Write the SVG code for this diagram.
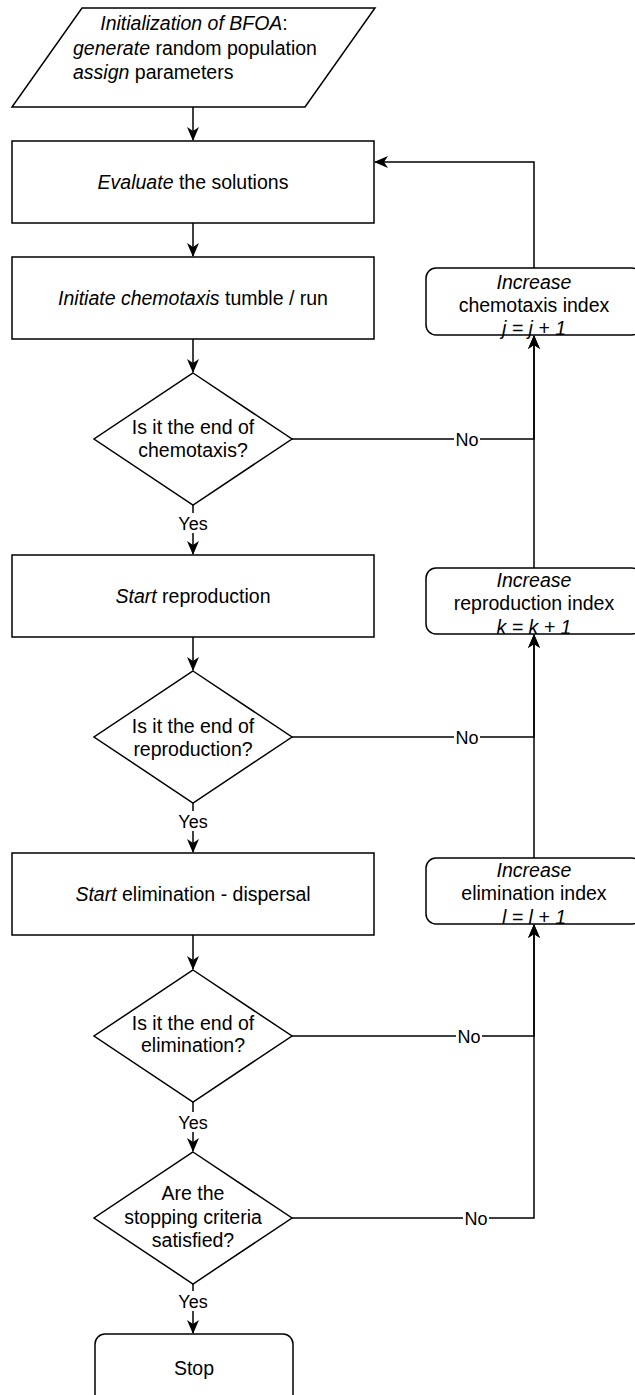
<svg xmlns="http://www.w3.org/2000/svg" width="635" height="1395" viewBox="0 0 635 1395">
  <style>
    .shape { fill: #ffffff; stroke: #000000; stroke-width: 1.5; }
    .edge { fill: none; stroke: #000000; stroke-width: 1.5; }
    text { font-family: "Liberation Sans", Arial, sans-serif; fill: #000000; }
    .t { font-size: 19.5px; text-anchor: middle; }
    .tl { font-size: 19.5px; }
    .lbl { font-size: 18px; text-anchor: middle; }
    .lblbg { fill: #ffffff; stroke: none; }
    .i { font-style: italic; }
  </style>
  <defs>
    <marker id="arrow" viewBox="0 0 14 12" refX="13" refY="6" markerWidth="14" markerHeight="12" markerUnits="userSpaceOnUse" orient="auto">
      <path d="M0,0 L14,6 L0,12 L4,6 Z" fill="#000000"/>
    </marker>
  </defs>

  <!-- connectors -->
  <g id="connectors">
    <path class="edge" d="M193,107 V140" marker-end="url(#arrow)"/>
    <path class="edge" d="M193,223 V256" marker-end="url(#arrow)"/>
    <path class="edge" d="M193,339 V372" marker-end="url(#arrow)"/>
    <path class="edge" d="M193,505 V554" marker-end="url(#arrow)"/>
    <path class="edge" d="M193,637 V670" marker-end="url(#arrow)"/>
    <path class="edge" d="M193,803 V852" marker-end="url(#arrow)"/>
    <path class="edge" d="M193,935 V969" marker-end="url(#arrow)"/>
    <path class="edge" d="M193,1102 V1151" marker-end="url(#arrow)"/>
    <path class="edge" d="M193,1284 V1333" marker-end="url(#arrow)"/>

    <!-- loop back: chemotaxis -->
    <path class="edge" d="M292,439 H534 V336" marker-end="url(#arrow)"/>
    <path class="edge" d="M534,268 V162 H375" marker-end="url(#arrow)"/>
    <!-- loop back: reproduction -->
    <path class="edge" d="M292,737 H534 V635" marker-end="url(#arrow)"/>
    <path class="edge" d="M534,568 V336" marker-end="url(#arrow)"/>
    <!-- loop back: elimination -->
    <path class="edge" d="M292,1036 H534 V925" marker-end="url(#arrow)"/>
    <path class="edge" d="M534,858 V635" marker-end="url(#arrow)"/>
    <path class="edge" d="M292,1218 H534 V925" marker-end="url(#arrow)"/>

    <!-- edge labels -->
    <rect class="lblbg" x="177" y="513" width="32" height="20"/>
    <text class="lbl" x="193" y="529.5">Yes</text>
    <rect class="lblbg" x="177" y="811" width="32" height="20"/>
    <text class="lbl" x="193" y="827.5">Yes</text>
    <rect class="lblbg" x="177" y="1112" width="32" height="20"/>
    <text class="lbl" x="193" y="1128.5">Yes</text>
    <rect class="lblbg" x="177" y="1291" width="32" height="20"/>
    <text class="lbl" x="193" y="1307.5">Yes</text>

    <rect class="lblbg" x="454" y="429" width="26" height="20"/>
    <text class="lbl" x="467" y="445.5">No</text>
    <rect class="lblbg" x="454" y="727" width="26" height="20"/>
    <text class="lbl" x="467" y="743.5">No</text>
    <rect class="lblbg" x="456" y="1026" width="26" height="20"/>
    <text class="lbl" x="469" y="1042.5">No</text>
    <rect class="lblbg" x="463" y="1208" width="26" height="20"/>
    <text class="lbl" x="476" y="1224.5">No</text>
  </g>

  <!-- initialization (input/output) -->
  <g id="init">
    <polygon class="shape" points="82,8 375,8 305,107 12,107"/>
    <text class="t" x="194" y="30"><tspan class="i">Initialization of BFOA</tspan>:</text>
    <text class="tl" x="73" y="54.5"><tspan class="i">generate</tspan> random population</text>
    <text class="tl" x="73" y="78.5"><tspan class="i">assign</tspan> parameters</text>
  </g>

  <g id="evaluate">
    <rect class="shape" x="12" y="141" width="362" height="82"/>
    <text class="t" x="193" y="189"><tspan class="i">Evaluate</tspan> the solutions</text>
  </g>

  <g id="chemotaxis">
    <rect class="shape" x="12" y="257" width="362" height="82"/>
    <text class="t" x="193" y="305"><tspan class="i">Initiate chemotaxis</tspan> tumble / run</text>
  </g>

  <g id="end-chemotaxis">
    <polygon class="shape" points="193,373 292,439 193,505 94,439"/>
    <text class="t" x="193" y="434">Is it the end of</text>
    <text class="t" x="193" y="457">chemotaxis?</text>
  </g>

  <g id="reproduction">
    <rect class="shape" x="12" y="555" width="362" height="82"/>
    <text class="t" x="193" y="603"><tspan class="i">Start</tspan> reproduction</text>
  </g>

  <g id="end-reproduction">
    <polygon class="shape" points="193,671 292,737 193,803 94,737"/>
    <text class="t" x="193" y="732.5">Is it the end of</text>
    <text class="t" x="193" y="755.5">reproduction?</text>
  </g>

  <g id="elimination">
    <rect class="shape" x="12" y="853" width="362" height="82"/>
    <text class="t" x="193" y="901"><tspan class="i">Start</tspan> elimination - dispersal</text>
  </g>

  <g id="end-elimination">
    <polygon class="shape" points="193,970 292,1036 193,1102 94,1036"/>
    <text class="t" x="193" y="1030">Is it the end of</text>
    <text class="t" x="193" y="1052">elimination?</text>
  </g>

  <g id="stopping-criteria">
    <polygon class="shape" points="193,1152 292,1218 193,1284 94,1218"/>
    <text class="t" x="193" y="1200">Are the</text>
    <text class="t" x="193" y="1224">stopping criteria</text>
    <text class="t" x="193" y="1247">satisfied?</text>
  </g>

  <g id="stop">
    <rect class="shape" x="95" y="1334" width="198" height="70" rx="10" ry="10"/>
    <text class="t" x="194" y="1375">Stop</text>
  </g>

  <g id="inc-chemotaxis">
    <rect class="shape" x="426" y="268" width="216" height="67" rx="10" ry="10"/>
    <text class="t i" x="534" y="289">Increase</text>
    <text class="t" x="534" y="312">chemotaxis index</text>
    <text class="t i" x="534" y="335">j = j + 1</text>
  </g>

  <g id="inc-reproduction">
    <rect class="shape" x="426" y="568" width="216" height="66" rx="10" ry="10"/>
    <text class="t i" x="534" y="587">Increase</text>
    <text class="t" x="534" y="610">reproduction index</text>
    <text class="t i" x="534" y="634">k = k + 1</text>
  </g>

  <g id="inc-elimination">
    <rect class="shape" x="426" y="858" width="216" height="66" rx="10" ry="10"/>
    <text class="t i" x="534" y="877">Increase</text>
    <text class="t" x="534" y="900">elimination index</text>
    <text class="t i" x="534" y="924">l = l + 1</text>
  </g>
</svg>
